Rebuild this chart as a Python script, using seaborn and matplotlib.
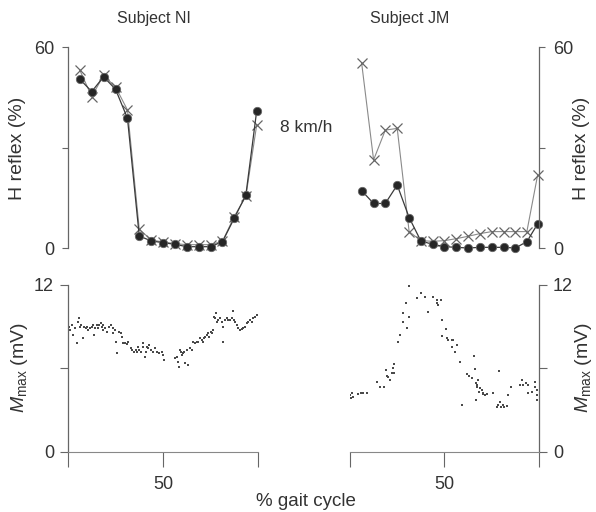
import pandas as pd
import seaborn as sns
from matplotlib import pyplot as plt

sns.set_theme(style="ticks")
plt.rcParams['font.family'] = ['Liberation Sans', 'DejaVu Sans']
plt.rcParams['mathtext.fontset'] = 'custom'
plt.rcParams['mathtext.rm'] = 'Liberation Sans'
plt.rcParams['mathtext.it'] = 'Liberation Sans:italic'

# H reflex (% of Mmax) over the gait cycle, 8 km/h
gait = [6.2, 12.5, 18.7, 25, 31.3, 37.5, 43.8, 50, 56.3, 62.5, 68.8, 75, 81.3, 87.5, 93.6, 99.3]
ni_circle = [50.4, 46.7, 51.1, 47.4, 38.7, 3.6, 2.1, 1.6, 1.1, 0.4, 0.4, 0.4, 1.9, 8.9, 15.8, 40.9]
ni_cross = [53.1, 45.2, 51.5, 48.1, 41.2, 5.6, 2.4, 1.8, 1.3, 1.0, 1.0, 1.0, 2.0, 9.4, 15.4, 36.7]
jm_circle = [17.1, 13.3, 13.3, 18.8, 9.1, 2.1, 1.1, 0.4, 0.2, 0.0, 0.2, 0.2, 0.2, 0.0, 1.9, 7.2]
jm_cross = [55.1, 26.3, 35.2, 35.7, 4.9, 2.2, 2.0, 2.2, 2.8, 3.5, 4.3, 4.9, 4.9, 4.9, 4.9, 21.8]

# Mmax (mV) samples
ni_mx = [0.7, 1.1, 1.9, 2.5, 3.7, 4.6, 5.4, 6.0, 6.3, 6.7, 7.7, 8.4, 9.5, 10.2, 10.7, 11.6, 12.5,
         13.3, 13.9, 14.2, 15.1, 16.0, 16.5, 17.2, 17.7, 18.2, 18.6, 19.5, 20.3, 21.8, 22.5, 23.5,
         23.9, 24.7, 25.3, 26.0, 27.0, 27.7, 28.2, 29.1, 30.0, 30.9, 31.8, 33.0, 33.5, 34.7, 35.8,
         36.5, 37.0, 37.5, 38.3, 39.3, 39.7, 40.5, 41.0, 41.8, 42.3, 42.8, 43.5, 44.6, 45.8, 46.7,
         48.1, 49.3, 50.2, 50.5, 56.3, 57.2, 58.1, 58.6, 59.0, 59.3, 59.8, 60.3, 61.1, 61.6, 62.5,
         63.3, 64.2, 65.1, 66.0, 66.8, 67.7, 68.6, 69.5, 70.4, 70.9, 71.6, 72.3, 73.0, 73.5, 74.4,
         75.1, 75.6, 76.1, 76.8, 77.4, 77.9, 78.2, 79.1, 80.0, 80.9, 81.4, 81.8, 82.6, 83.5, 84.4,
         85.3, 86.1, 87.0, 87.4, 87.9, 88.8, 89.7, 90.5, 91.4, 92.3, 93.2, 94.0, 94.9, 95.8, 96.7,
         97.5, 98.4, 99.3]
ni_my = [9.01, 8.77, 9.13, 8.41, 8.89, 7.81, 9.37, 9.61, 9.01, 9.13, 8.17, 9.01, 8.89, 9.01, 8.77,
         8.89, 9.01, 9.13, 8.41, 8.89, 9.13, 8.89, 9.13, 9.25, 9.01, 8.77, 9.13, 8.89, 8.65, 9.01,
         9.13, 8.53, 8.89, 8.77, 7.93, 7.09, 8.65, 8.53, 8.29, 7.81, 7.81, 7.76, 7.93, 7.45, 7.33,
         7.21, 7.33, 7.21, 7.57, 7.33, 7.21, 7.81, 7.57, 6.85, 7.21, 7.57, 7.45, 7.69, 7.33, 7.21,
         7.45, 7.21, 7.14, 7.21, 6.97, 6.61, 6.73, 6.85, 6.49, 6.13, 7.33, 7.21, 6.97, 7.09, 7.21,
         6.37, 7.33, 6.25, 7.45, 7.33, 7.93, 7.81, 7.93, 7.93, 8.17, 8.05, 7.93, 8.17, 8.29, 8.41,
         8.53, 8.29, 8.65, 8.53, 8.77, 9.73, 9.61, 9.97, 9.37, 9.49, 9.61, 9.37, 7.93, 9.01, 9.49,
         9.61, 9.49, 9.49, 9.61, 10.16, 9.49, 9.37, 9.13, 8.89, 8.77, 8.82, 8.89, 9.01, 9.25, 9.37,
         9.49, 9.37, 9.61, 9.73, 9.85]
jm_mx = [0.0, 0.5, 0.9, 1.8, 4.4, 5.6, 7.1, 9.2, 14.1, 15.9, 18.0, 19.0, 19.4, 20.3, 21.2, 22.0,
         22.6, 23.3, 23.3, 25.6, 26.5, 27.9, 28.2, 30.0, 29.6, 31.4, 31.4, 35.3, 36.2, 35.6, 37.6,
         39.7, 41.4, 43.7, 45.9, 46.2, 46.7, 48.1, 48.5, 50.8, 48.5, 51.5, 52.0, 53.8, 54.7, 54.1,
         55.6, 56.8, 58.2, 59.1, 62.1, 63.1, 64.4, 65.8, 66.1, 66.7, 67.0, 67.4, 67.9, 68.8, 69.7,
         70.5, 71.4, 72.3, 66.7, 75.8, 77.6, 78.5, 79.4, 79.7, 80.8, 81.5, 82.9, 83.8, 79.0, 85.0,
         90.8, 91.7, 93.1, 94.4, 96.1, 97.9, 98.8, 99.1, 98.8, 97.9, 94.4, 90.0, 68.4, 70.2]
jm_my = [4.10, 3.86, 4.22, 3.98, 4.17, 4.22, 4.22, 4.27, 5.06, 4.65, 4.70, 5.90, 5.46, 5.37, 5.18,
         5.66, 6.03, 5.66, 6.33, 7.93, 8.41, 9.37, 9.97, 8.89, 10.69, 9.73, 11.93, 12.24, 12.12,
         11.04, 11.40, 11.16, 10.09, 11.16, 10.92, 10.69, 10.57, 10.92, 9.49, 8.82, 8.34, 8.17,
         8.05, 8.05, 8.05, 7.57, 7.21, 7.69, 6.49, 3.38, 5.61, 5.46, 5.30, 6.90, 5.94, 4.94, 4.82,
         4.70, 5.18, 4.58, 4.46, 4.22, 4.10, 4.17, 3.74, 4.22, 3.26, 3.38, 3.62, 3.26, 3.38, 3.26,
         3.31, 4.10, 5.85, 4.65, 5.18, 4.82, 4.94, 4.22, 4.34, 4.70, 4.10, 3.74, 4.46, 5.06, 4.82,
         4.82, 4.34, 4.17]

ink = '#333333'
fig = plt.figure(figsize=(5.96, 5.12), dpi=100)
ax_tl = fig.add_axes([0.1141, 0.5156, 0.3188, 0.3926])
ax_tr = fig.add_axes([0.5872, 0.5156, 0.3171, 0.3926])
ax_bl = fig.add_axes([0.1141, 0.1172, 0.3188, 0.3262])
ax_br = fig.add_axes([0.5872, 0.1172, 0.3171, 0.3262])

for ax, circ, cross in [(ax_tl, ni_circle, ni_cross), (ax_tr, jm_circle, jm_cross)]:
    sns.lineplot(x=gait, y=cross, ax=ax, color='#8a8a8a', lw=0.8, marker='x', ms=7,
                 mew=0.9, mec='#666666', estimator=None, sort=False, clip_on=False)
    sns.lineplot(x=gait, y=circ, ax=ax, color='#3a3a3a', lw=0.9, marker='o', ms=6,
                 mfc='#262626', mec='#666666', mew=0.6, estimator=None, sort=False, clip_on=False)
    ax.set_ylim(0, 60)
    ax.set_yticks([0, 30, 60])
    ax.set_yticklabels(['0', '', '60'])
    ax.tick_params(axis='y', length=4, width=0.8, pad=6, labelsize=13, color='#666', labelcolor=ink)

for ax, mx, my in [(ax_bl, ni_mx, ni_my), (ax_br, jm_mx, jm_my)]:
    sns.scatterplot(x=mx, y=my, ax=ax, s=4, color='#4a4a4a', marker='s', linewidth=0)
    ax.set_ylim(0, 12)
    ax.set_yticks([0, 6, 12])
    ax.set_yticklabels(['0', '', '12'])
    ax.tick_params(axis='y', length=6, width=0.8, pad=4, labelsize=13, color='#666', labelcolor=ink)
    ax.set_xticks([0, 50, 100])
    ax.set_xticklabels(['', '50', ''])
    ax.tick_params(axis='x', length=11, width=0.8, pad=6, labelsize=13, color='#666', labelcolor=ink)
    ax.spines['bottom'].set_color('#888')
    ax.spines['bottom'].set_linewidth(0.8)
    ax.spines['bottom'].set_linestyle((0, (3, 1)))

for ax in [ax_tl, ax_tr, ax_bl, ax_br]:
    ax.set_xlim(0, 100)
    ax.set_xlabel('')
    ax.set_ylabel('')
    ax.spines['top'].set_visible(False)
    for s in ['left', 'right']:
        ax.spines[s].set_color('#666')
        ax.spines[s].set_linewidth(0.9)

for ax in [ax_tl, ax_tr]:
    ax.spines['bottom'].set_visible(False)
    ax.set_xticks([])

for ax in [ax_tl, ax_bl]:
    ax.spines['right'].set_visible(False)

for ax in [ax_tr, ax_br]:
    ax.spines['left'].set_visible(False)
    ax.yaxis.tick_right()

fig.text(154 / 596, 1 - 18 / 512, 'Subject NI', ha='center', va='center', fontsize=11.5, color=ink)
fig.text(410 / 596, 1 - 18 / 512, 'Subject JM', ha='center', va='center', fontsize=11.5, color=ink)
fig.text(306 / 596, 1 - 127 / 512, '8 km/h', ha='center', va='center', fontsize=12.5, color=ink)
fig.text(306 / 596, 1 - 502 / 512, '% gait cycle', ha='center', va='center', fontsize=13.5, color=ink)
fig.text(18 / 596, 1 - 148 / 512, 'H reflex (%)', rotation=90, ha='center', va='center',
         fontsize=14, color=ink)
fig.text(582 / 596, 1 - 148 / 512, 'H reflex (%)', rotation=90, ha='center', va='center',
         fontsize=14, color=ink)
fig.text(20 / 596, 1 - 368 / 512, r'$M_{\mathrm{max}}$ (mV)', rotation=90, ha='center',
         va='center', fontsize=14, color=ink)
fig.text(583 / 596, 1 - 368 / 512, r'$M_{\mathrm{max}}$ (mV)', rotation=90, ha='center',
         va='center', fontsize=14, color=ink)

fig.savefig('out.png', dpi=100)
